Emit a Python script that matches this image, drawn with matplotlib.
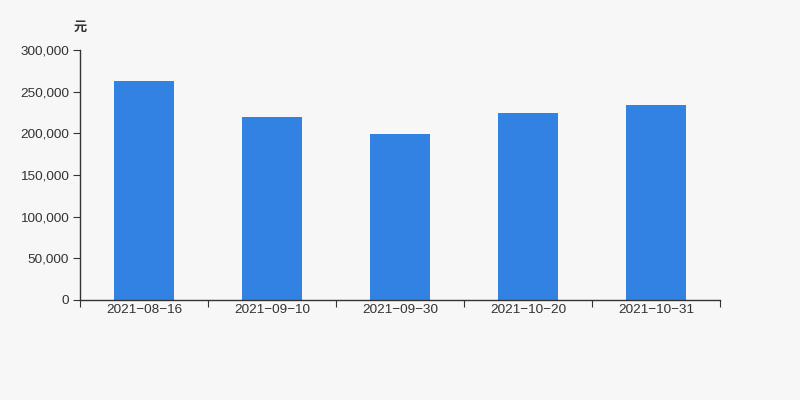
import matplotlib
matplotlib.use("Agg")
import matplotlib.pyplot as plt
from matplotlib.ticker import FuncFormatter, FixedLocator
import numpy as np

plt.rcParams["font.family"] = ["Liberation Sans", "Noto Sans CJK SC", "DejaVu Sans"]

dates = ["2021-08-16", "2021-09-10", "2021-09-30", "2021-10-20", "2021-10-31"]
values = [262800, 220000, 198800, 224800, 234100]
y_ticks = [0, 50000, 100000, 150000, 200000, 250000, 300000]

bg = "#f7f7f7"
axis_color = "#333333"

fig = plt.figure(figsize=(8, 4), dpi=100, facecolor=bg)
ax = fig.add_axes([0.1, 0.25, 0.8, 0.625], facecolor=bg)

x = np.arange(len(dates))
ax.bar(x, values, width=60 / 128, color="#3282e3", zorder=2)

ax.set_xlim(-0.5, len(dates) - 0.5)
ax.set_ylim(0, 300000)
ax.set_yticks(y_ticks)
ax.yaxis.set_major_formatter(FuncFormatter(lambda v, _: f"{int(v):,}"))

# ticks sit on the category boundaries, labels in the middle
ax.xaxis.set_major_locator(FixedLocator(np.arange(-0.5, len(dates), 1.0)))
ax.xaxis.set_major_formatter(FuncFormatter(lambda v, _: ""))
ax.set_xticks(x, minor=True)
ax.set_xticklabels([d.replace("-", "\u2212") for d in dates], minor=True)
ax.tick_params(axis="x", which="minor", length=0, pad=3, labelsize=9.7, colors="#333333")
ax.tick_params(axis="x", which="major", length=5, color=axis_color)
ax.tick_params(axis="y", length=5, color=axis_color, labelsize=9.7, labelcolor="#333333", pad=3)

for side in ("top", "right"):
    ax.spines[side].set_visible(False)
for side in ("left", "bottom"):
    ax.spines[side].set_color(axis_color)
    ax.spines[side].set_linewidth(1)

fig.text(80 / 800, 1 - 28 / 400, "元", ha="center", va="center",
         fontsize=9.5, fontweight="bold", color="#333333")

fig.savefig("out.png", dpi=100, facecolor=bg)
